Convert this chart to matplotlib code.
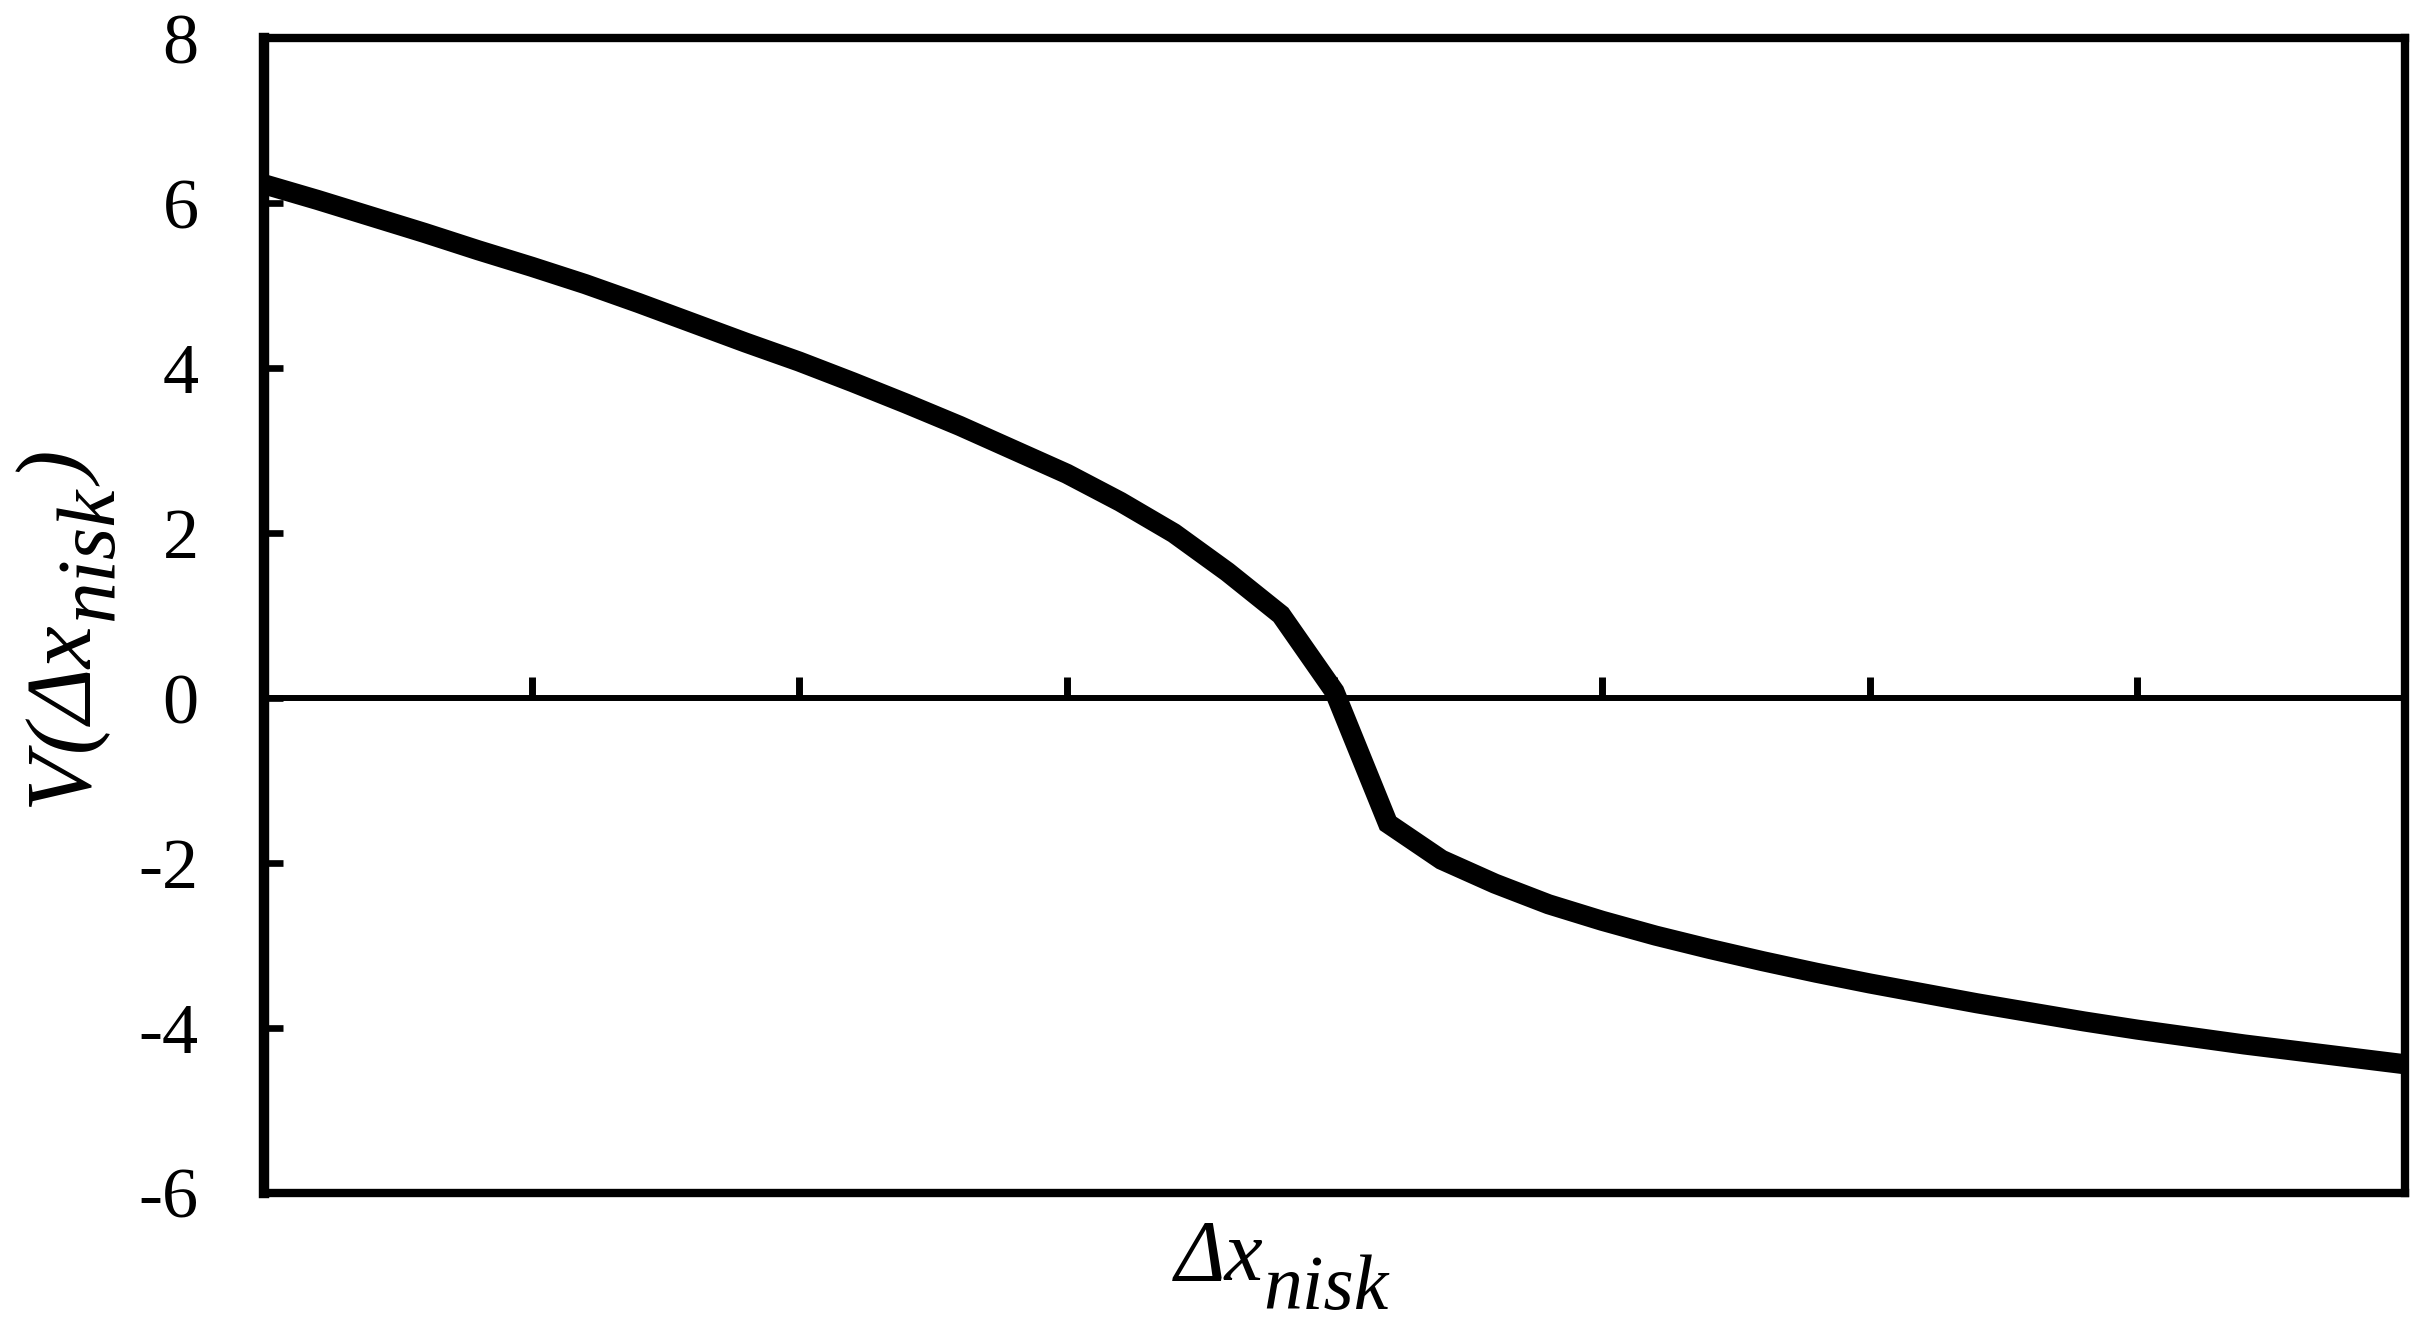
import matplotlib
matplotlib.use('Agg')
import matplotlib.pyplot as plt

plt.rcParams['font.family'] = ['Liberation Serif', 'DejaVu Serif']
plt.rcParams['axes.unicode_minus'] = False

# values
dx_nisk = [0.0, 0.2, 0.4, 0.6, 0.8, 1.0, 1.2, 1.4, 1.6, 1.8,
           2.0, 2.2, 2.4, 2.6, 2.8, 3.0, 3.2, 3.4, 3.6, 3.8,
           4.0, 4.2, 4.4, 4.6, 4.8, 5.0, 5.2, 5.4, 5.6, 5.8,
           6.0, 6.2, 6.4, 6.6, 6.8, 7.0, 7.2, 7.4, 7.6, 7.8, 8.0]
v_vals = [6.23, 6.04, 5.84, 5.64, 5.43, 5.23, 5.02, 4.79, 4.55, 4.31,
          4.08, 3.83, 3.57, 3.30, 3.01, 2.72, 2.38, 2.00, 1.53, 1.01,
          0.08, -1.52, -1.96, -2.25, -2.50, -2.70, -2.88, -3.04, -3.19, -3.33,
          -3.46, -3.58, -3.70, -3.81, -3.92, -4.02, -4.11, -4.20, -4.28, -4.36, -4.44]

y_ticks = [-6, -4, -2, 0, 2, 4, 6, 8]
x_ticks = [1, 2, 3, 4, 5, 6, 7]

fig = plt.figure(figsize=(24.3, 13.28), dpi=100)
ax = fig.add_axes([0.1086, 0.1017, 0.8811, 0.8695])

ax.plot(dx_nisk, v_vals, color='k', lw=14.5, solid_joinstyle='miter', solid_capstyle='butt')

ax.set_xlim(0, 8)
ax.set_ylim(-6, 8)
ax.set_yticks(y_ticks)
ax.set_xticks(x_ticks)
ax.set_xticklabels([])

ax.spines['left'].set_linewidth(7.5)
ax.spines['right'].set_linewidth(6)
ax.spines['top'].set_linewidth(6)
# x axis sits on the zero line, frame closed below
ax.spines['bottom'].set_position(('data', 0))
ax.spines['bottom'].set_linewidth(4.3)
ax.axhline(-6, color='k', lw=6, clip_on=False, solid_capstyle='projecting')

ax.tick_params(axis='y', direction='in', length=14, width=4.8, pad=47, labelsize=52)
ax.tick_params(axis='x', direction='in', length=15, width=5, labelbottom=False)

# x label: Δx with a big subscript
tx = ax.text(0.4255, -0.0753, 'Δx', transform=ax.transAxes, fontsize=62,
             style='italic', ha='left', va='baseline')
ax.annotate('nisk', xy=(1, 0), xycoords=tx, xytext=(0, -7), textcoords='offset points',
            fontsize=56, style='italic', ha='left', va='baseline')

# y label: V(Δx_nisk), rotated
ty = ax.text(-0.0831, 0.334, 'V(Δx', transform=ax.transAxes, fontsize=68,
             style='italic', rotation=90, rotation_mode='anchor', ha='left', va='baseline')
ts = ax.annotate('nisk', xy=(1, 1), xycoords=ty, xytext=(4.5, 0), textcoords='offset points',
                 fontsize=60, style='italic', rotation=90, rotation_mode='anchor',
                 ha='left', va='baseline')
ax.annotate(')', xy=(1, 1), xycoords=(ty, ts), xytext=(-14.5, 0), textcoords='offset points',
            fontsize=68, style='italic', rotation=90, rotation_mode='anchor',
            ha='left', va='baseline')

fig.savefig('out.png', dpi=100)
